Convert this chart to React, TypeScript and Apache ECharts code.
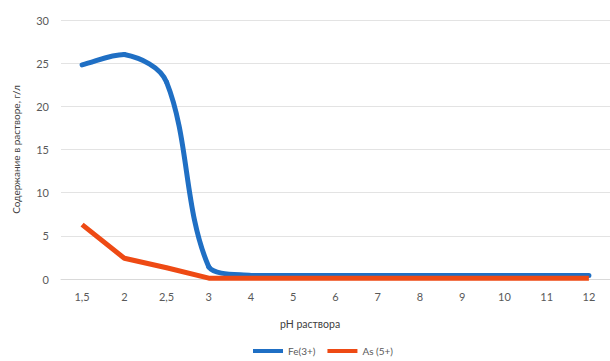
import React, { useEffect, useRef } from "react";
import * as echarts from "echarts";

const categories = ["1,5", "2", "2,5", "3", "4", "5", "6", "7", "8", "9", "10", "11", "12"];
const feValues = [24.8, 26.0, 22.8, 1.4, 0.4, 0.4, 0.4, 0.4, 0.4, 0.4, 0.4, 0.4, 0.4];
const asValues = [6.3, 2.4, 1.3, 0.1, 0.1, 0.1, 0.1, 0.1, 0.1, 0.1, 0.1, 0.1, 0.1];
const yTicks = { min: 0, max: 30, interval: 5 };

const FE_COLOR = "#1f6fc4";
const AS_COLOR = "#ee4a14";

// Smoothed segment renderer (Excel-like smoothing) built on the axis scales via api.coord
function makeSmoothRenderer(values: number[], color: string, k: number) {
  return (params: any, api: any) => {
    const i = params.dataIndex;
    const n = values.length;
    if (i >= n - 1) return null;
    const pt = (j: number) => {
      const jj = Math.max(0, Math.min(n - 1, j));
      return api.coord([jj, values[jj]]) as number[];
    };
    const pPrev = pt(i - 1);
    const p0 = pt(i);
    const p1 = pt(i + 1);
    const pNext = pt(i + 2);
    const len = Math.hypot(p1[0] - p0[0], p1[1] - p0[1]);
    const unit = (a: number[], b: number[]) => {
      const dx = b[0] - a[0];
      const dy = b[1] - a[1];
      const l = Math.hypot(dx, dy) || 1;
      return [dx / l, dy / l];
    };
    const t0 = unit(pPrev, p1);
    const t1 = unit(p0, pNext);
    const clamp = (v: number, a: number, b: number) => Math.max(Math.min(a, b), Math.min(Math.max(a, b), v));
    const c0 = [
      clamp(p0[0] + t0[0] * k * len, p0[0], p1[0]),
      clamp(p0[1] + t0[1] * k * len, p0[1], p1[1]),
    ];
    const c1 = [
      clamp(p1[0] - t1[0] * k * len, p0[0], p1[0]),
      clamp(p1[1] - t1[1] * k * len, p0[1], p1[1]),
    ];
    const d = `M${p0[0]} ${p0[1]} C${c0[0]} ${c0[1]} ${c1[0]} ${c1[1]} ${p1[0]} ${p1[1]}`;
    return {
      type: "path",
      shape: { pathData: d },
      style: { fill: "none", stroke: color, lineWidth: 5, lineCap: "round", lineJoin: "round" },
    };
  };
}

export default function App() {
  const ref = useRef<HTMLDivElement>(null);
  useEffect(() => {
    document.body.style.margin = "0";
    const chart = echarts.init(ref.current!, null, { renderer: "svg" });
    const font = "Lato, 'Open Sans', sans-serif";
    chart.setOption({
      animation: false,
      backgroundColor: "#ffffff",
      textStyle: { fontFamily: font },
      grid: { left: 61, right: 0, top: 20, bottom: 82 },
      xAxis: {
        type: "category",
        data: categories,
        boundaryGap: true,
        axisLine: { show: true, lineStyle: { color: "#d9d9d9" } },
        axisTick: { show: false },
        axisLabel: { color: "#595959", fontSize: 11, margin: 12, fontFamily: font },
      },
      yAxis: {
        type: "value",
        min: yTicks.min,
        max: yTicks.max,
        interval: yTicks.interval,
        name: "Содержание в растворе, г/л",
        nameLocation: "middle",
        nameGap: 40,
        nameTextStyle: { color: "#404040", fontSize: 10, fontFamily: font },
        axisLine: { show: false },
        axisTick: { show: false },
        axisLabel: { color: "#595959", fontSize: 11, margin: 12, fontFamily: font },
        splitLine: { lineStyle: { color: "#e3e3e3" } },
      },
      legend: {
        bottom: 0,
        left: 248,
        itemWidth: 30,
        itemHeight: 4,
        itemGap: 12,
        icon: "rect",
        textStyle: { color: "#595959", fontSize: 10, fontFamily: font },
        data: ["Fe(3+)", "As (5+)"],
      },
      graphic: [
        {
          type: "text",
          left: 280,
          top: 318,
          style: { text: "pH раствора", fill: "#404040", fontSize: 10.5, fontFamily: font },
        },
      ],
      series: [
        {
          name: "Fe(3+)",
          type: "custom",
          coordinateSystem: "cartesian2d",
          data: feValues.map((v, i) => [i, v]),
          encode: { x: 0, y: 1 },
          renderItem: makeSmoothRenderer(feValues, FE_COLOR, 0.33),
          itemStyle: { color: FE_COLOR },
          z: 2,
        },
        {
          name: "As (5+)",
          type: "line",
          data: asValues,
          smooth: false,
          showSymbol: false,
          symbol: "none",
          lineStyle: { color: AS_COLOR, width: 5 },
          itemStyle: { color: AS_COLOR },
          z: 3,
        },
      ],
    });
    return () => chart.dispose();
  }, []);
  return <div ref={ref} style={{ width: 610, height: 361 }} />;
}
